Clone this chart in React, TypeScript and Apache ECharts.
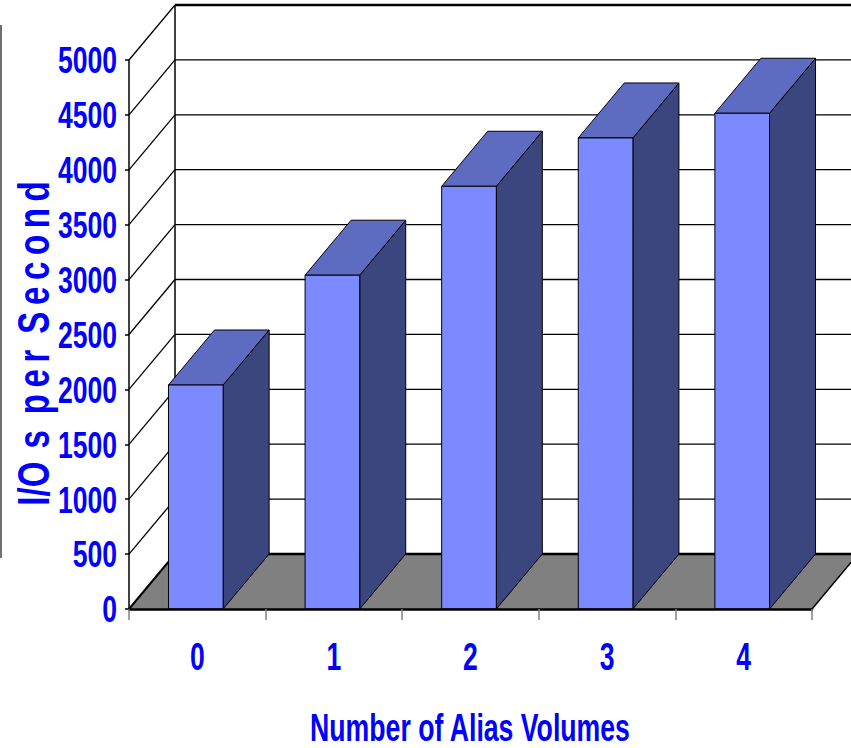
import React, { useEffect, useRef } from 'react';
import * as echarts from 'echarts';

// ---- data ----
const categories = ['0', '1', '2', '3', '4'];
const ioPerSecond = [2040, 3040, 3850, 4290, 4515];
const yMin = 0;
const yMax = 5000;
const yStep = 500;
const yTickValues = [0, 500, 1000, 1500, 2000, 2500, 3000, 3500, 4000, 4500, 5000];
const yTickLabels = ['0', '500', '1000', '1500', '2000', '2500', '3000', '3500', '4000', '4500', '5000'];
const xTitle = 'Number of Alias Volumes';
const yTitle = 'I/O\u2009\u2009s\u2009 p\u2009e\u2009r\u2009 S\u2009e\u2009c\u2009o\u2009n\u2009d';

// ---- style ----
const DX = 46;
const DY = 55;
const BAR_RATIO = 0.4;
const BAR_SHIFT = -1.5;
const BLUE = '#0000FF';
const FAMILY = '"Liberation Sans", Arial, sans-serif';
const LABEL_FONT = `bold 32px ${FAMILY}`;
const LABEL_SX = 0.83;
const LABEL_SY = 1.18;

function renderWalls(params: any, api: any) {
  const band = api.size([1, 0])[0];
  const n = categories.length;
  const left = api.coord([0, yMin])[0] - band / 2;
  const right = api.coord([n - 1, yMin])[0] + band / 2;
  const y0 = api.coord([0, yMin])[1];
  const yTop = api.coord([0, yMax])[1];
  const children: any[] = [];
  children.push({
    type: 'polygon',
    shape: { points: [[left, y0], [right, y0], [right + DX, y0 - DY], [left + DX, y0 - DY]] },
    style: { fill: '#808080', stroke: null },
  });
  yTickValues.forEach((v) => {
    const y = api.coord([0, v])[1];
    const edge = v === yMin || v === yMax;
    children.push({
      type: 'line',
      shape: { x1: left + DX, y1: y - DY, x2: right + DX + 20, y2: y - DY },
      style: { stroke: '#000', lineWidth: edge ? 2.5 : 1.3 },
    });
    if (v !== yMin) {
      children.push({
        type: 'line',
        shape: { x1: left, y1: y, x2: left + DX, y2: y - DY },
        style: { stroke: '#000', lineWidth: 1.3 },
      });
    }
  });
  children.push({
    type: 'line',
    shape: { x1: left + DX, y1: y0 - DY, x2: left + DX, y2: yTop - DY },
    style: { stroke: '#000', lineWidth: 1.5 },
  });
  children.push({
    type: 'line',
    shape: { x1: left, y1: y0, x2: left + DX, y2: y0 - DY },
    style: { stroke: '#000', lineWidth: 2 },
  });
  children.push({
    type: 'line',
    shape: { x1: right, y1: y0, x2: right + DX, y2: y0 - DY },
    style: { stroke: '#000', lineWidth: 1.5 },
  });
  return { type: 'group', children };
}

function renderBar(params: any, api: any) {
  const idx = api.value(0);
  const val = api.value(1);
  const band = api.size([1, 0])[0];
  const w = band * BAR_RATIO;
  const base = api.coord([idx, yMin]);
  const top = api.coord([idx, val]);
  const cx = base[0] + BAR_SHIFT;
  const x1 = cx - w / 2;
  const x2 = cx + w / 2;
  const y0 = base[1];
  const y1 = top[1];
  const stroke = { stroke: '#000', lineWidth: 1, lineJoin: 'round' };
  return {
    type: 'group',
    children: [
      {
        type: 'polygon',
        shape: { points: [[x2, y0], [x2, y1], [x2 + DX, y1 - DY], [x2 + DX, y0 - DY]] },
        style: { fill: '#3C467E', ...stroke },
      },
      {
        type: 'polygon',
        shape: { points: [[x1, y1], [x2, y1], [x2 + DX, y1 - DY], [x1 + DX, y1 - DY]] },
        style: { fill: '#5D6BC0', ...stroke },
      },
      {
        type: 'rect',
        shape: { x: x1, y: y1, width: w, height: y0 - y1 },
        style: { fill: '#7B8BFF', ...stroke },
      },
    ],
  };
}

// value-axis tick labels, placed through the axis scale
function renderYLabel(params: any, api: any) {
  const band = api.size([1, 0])[0];
  const p = api.coord([0, api.value(1)]);
  const left = p[0] - band / 2;
  return {
    type: 'text',
    x: left - 12,
    y: p[1],
    scaleX: LABEL_SX,
    scaleY: LABEL_SY,
    style: {
      text: yTickLabels[params.dataIndex],
      fill: BLUE,
      font: LABEL_FONT,
      align: 'right',
      verticalAlign: 'middle',
    },
  };
}

// category labels, placed through the axis scale
function renderXLabel(params: any, api: any) {
  const p = api.coord([api.value(0), yMin]);
  return {
    type: 'text',
    x: p[0],
    y: p[1] + 48,
    scaleX: LABEL_SX,
    scaleY: LABEL_SY + 0.05,
    style: {
      text: categories[params.dataIndex],
      fill: BLUE,
      font: LABEL_FONT,
      align: 'center',
      verticalAlign: 'middle',
    },
  };
}

export default function App() {
  const ref = useRef<HTMLDivElement>(null);
  useEffect(() => {
    if (!ref.current) return;
    const chart = echarts.init(ref.current, undefined, { renderer: 'svg' });
    chart.setOption({
      animation: false,
      backgroundColor: '#fff',
      grid: { left: 129, right: 39, top: 60, bottom: 139, containLabel: false },
      xAxis: {
        type: 'category',
        data: categories,
        boundaryGap: true,
        z: 10,
        axisLine: { show: true, lineStyle: { color: '#000', width: 2.5 } },
        axisTick: { show: true, length: 11, lineStyle: { color: '#808080', width: 1.5 } },
        axisLabel: { show: false },
        splitLine: { show: false },
      },
      yAxis: {
        type: 'value',
        min: yMin,
        max: yMax,
        interval: yStep,
        z: 10,
        axisLine: { show: true, lineStyle: { color: '#000', width: 1.5 } },
        axisTick: { show: true, length: 4, lineStyle: { color: '#000', width: 1.5 } },
        axisLabel: { show: false },
        splitLine: { show: false },
      },
      graphic: [
        {
          type: 'line',
          shape: { x1: 1, y1: 25, x2: 1, y2: 558 },
          style: { stroke: '#404040', lineWidth: 1.5 },
        },
        {
          type: 'text',
          x: 470,
          y: 727.5,
          scaleX: 0.82,
          scaleY: 1.17,
          style: {
            text: xTitle,
            fill: BLUE,
            font: `bold 32.5px ${FAMILY}`,
            align: 'center',
            verticalAlign: 'middle',
          },
        },
        {
          type: 'text',
          x: 33.5,
          y: 343.5,
          rotation: Math.PI / 2,
          scaleX: 0.87,
          scaleY: 1.16,
          style: {
            text: yTitle,
            fill: BLUE,
            font: `bold 38px ${FAMILY}`,
            align: 'center',
            verticalAlign: 'middle',
          },
        },
      ],
      series: [
        {
          type: 'custom',
          name: 'walls',
          z: 1,
          silent: true,
          renderItem: renderWalls,
          data: [[0, 0]],
        },
        {
          type: 'custom',
          name: 'I/Os per Second',
          z: 3,
          renderItem: renderBar,
          data: categories.map((c, i) => [i, ioPerSecond[i]]),
        },
        {
          type: 'custom',
          name: 'yLabels',
          z: 5,
          silent: true,
          renderItem: renderYLabel,
          data: yTickValues.map((v) => [0, v]),
        },
        {
          type: 'custom',
          name: 'xLabels',
          z: 5,
          silent: true,
          renderItem: renderXLabel,
          data: categories.map((c, i) => [i, yMin]),
        },
      ],
    });
    return () => chart.dispose();
  }, []);
  return <div ref={ref} style={{ position: 'absolute', left: 0, top: 0, width: 851, height: 748 }} />;
}
